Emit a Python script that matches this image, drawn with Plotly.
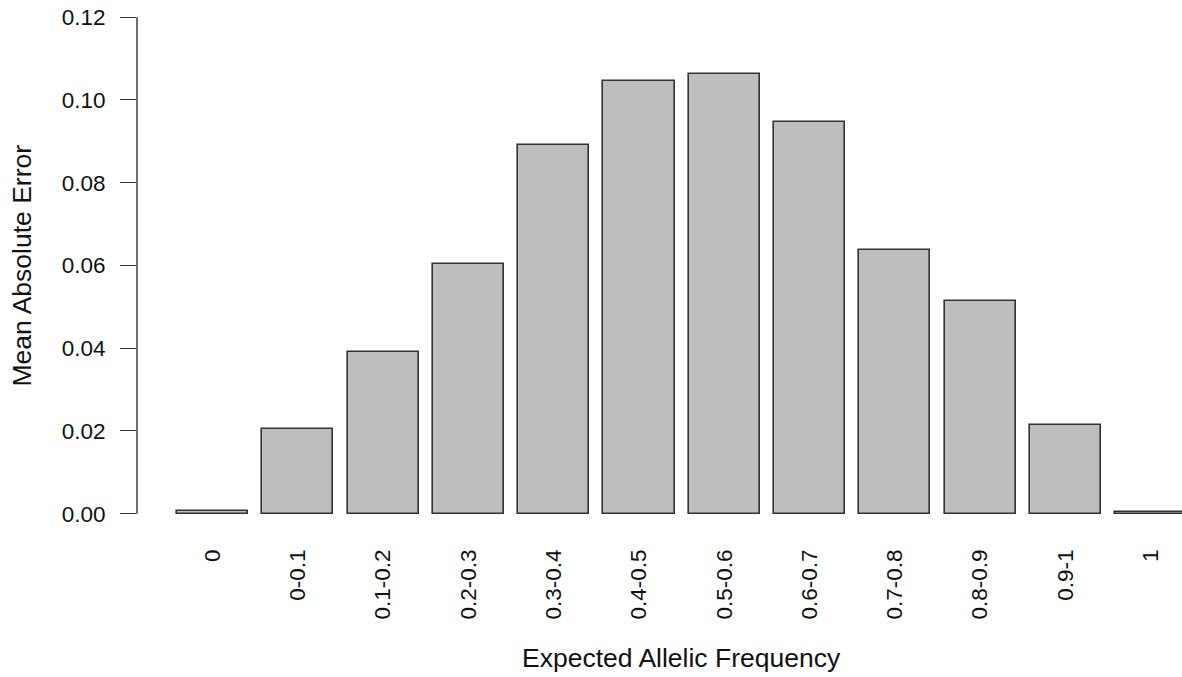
import plotly.graph_objects as go

# Allele-frequency bins and the mean absolute error measured in each
categories = ["0", "0-0.1", "0.1-0.2", "0.2-0.3", "0.3-0.4", "0.4-0.5",
              "0.5-0.6", "0.6-0.7", "0.7-0.8", "0.8-0.9", "0.9-1", "1"]
mae = [0.0006, 0.0205, 0.0390, 0.0603, 0.0891, 0.1047,
       0.1062, 0.0946, 0.0637, 0.0515, 0.0214, 0.0004]
y_ticks = [0.00, 0.02, 0.04, 0.06, 0.08, 0.10, 0.12]
y_tick_text = ["0.00", "0.02", "0.04", "0.06", "0.08", "0.10", "0.12"]

FONT = "Liberation Sans, Arial, Helvetica, sans-serif"
INK = "#333333"
TEXT = "#111111"
TICK_SIZE = 22.5
TITLE_SIZE = 26.5
positions = list(range(len(categories)))

fig = go.Figure(
    go.Bar(
        x=positions,
        y=mae,
        width=0.833,
        marker=dict(color="#bebebe", line=dict(color=INK, width=1.6)),
        hoverinfo="skip",
    )
)

# base-graphics style y axis: a line running only from 0 to 0.12
fig.add_shape(type="line", xref="paper", yref="y", x0=0, x1=0, y0=0, y1=0.12,
              line=dict(color=INK, width=1.4))

fig.add_annotation(text="Expected Allelic Frequency", xref="x", yref="paper",
                   x=5.5, y=-0.267, showarrow=False,
                   font=dict(family=FONT, size=TITLE_SIZE, color=TEXT),
                   xanchor="center", yanchor="middle")
fig.add_annotation(text="Mean Absolute Error", xref="paper", yref="y",
                   x=-0.110, y=0.06, showarrow=False, textangle=-90,
                   font=dict(family=FONT, size=TITLE_SIZE, color=TEXT),
                   xanchor="center", yanchor="middle")

fig.update_layout(
    width=1182, height=677,
    margin=dict(l=137, r=0, t=11, b=155, pad=0),
    paper_bgcolor="white", plot_bgcolor="white",
    showlegend=False,
    bargap=0,
    font=dict(family=FONT, size=TICK_SIZE, color=TEXT),
)
fig.update_xaxes(
    range=[-0.885, 11.366],
    tickmode="array", tickvals=positions, ticktext=categories,
    tickangle=-90, ticks="", showline=False, showgrid=False, zeroline=False,
    ticklabelstandoff=22,
    tickfont=dict(family=FONT, size=TICK_SIZE, color=TEXT),
)
fig.update_yaxes(
    range=[-0.002, 0.1215],
    tickmode="array", tickvals=y_ticks, ticktext=y_tick_text,
    ticks="outside", ticklen=16, tickwidth=1.4, tickcolor=INK,
    showline=False, showgrid=False, zeroline=False,
    ticklabelstandoff=10,
    tickfont=dict(family=FONT, size=TICK_SIZE, color=TEXT),
)

fig.write_html("out.html")
